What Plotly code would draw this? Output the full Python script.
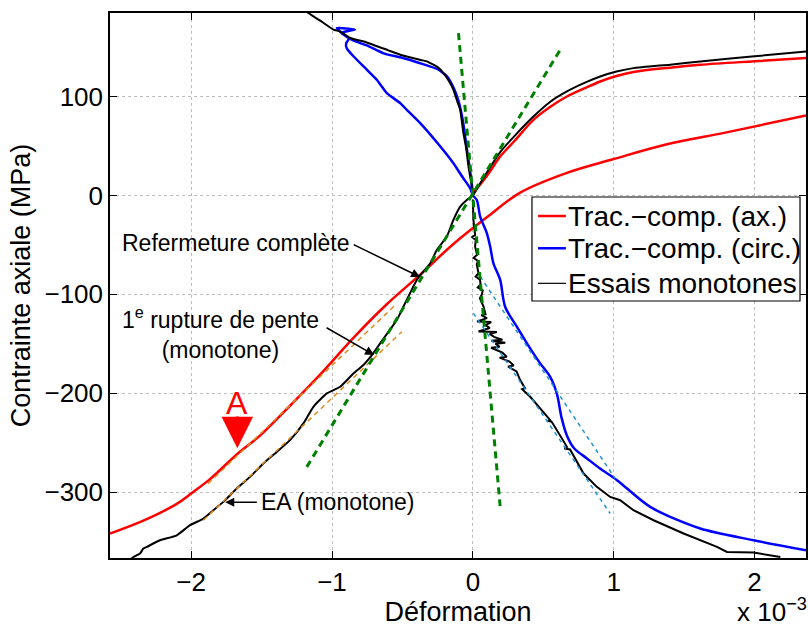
import plotly.graph_objects as go

# ---------------- data (strain in units of 1e-3, stress in MPa) ----------------
# Trac.-comp. (ax.) : tension branch from origin
red_t_x = [0, 0.1, 0.194, 0.3, 0.43, 0.55, 0.668, 0.8, 0.904, 1.02, 1.14, 1.4, 1.614, 2.0, 2.365]
red_t_y = [2, 20, 39.5, 56, 76.7, 90, 100.3, 109, 115.5, 121, 125, 129.5, 132.4, 136, 139.2]
# Trac.-comp. (ax.) : compression -> tension branch
red_c_x = [-2.576, -2.339, -2.102, -1.995, -1.866, -1.676, -1.511, -1.404, -1.083, -0.848,
           -0.611, -0.374, -0.138, 0.099, 0.336, 0.668, 1.0, 1.378, 1.8, 2.365]
red_c_y = [-342, -329, -312, -301, -287, -262, -243, -228, -181, -144,
           -110, -80, -49, -22, 3, 23, 37, 52, 64, 81]

# Trac.-comp. (circ.) : tension loop (loading then unloading)
blue_t_x = [0, -0.01, -0.03, -0.05, -0.07, -0.1, -0.14, -0.185, -0.25, -0.374, -0.516, -0.635,
            -0.753, -0.85, -0.919, -0.942, -0.966, -0.836, -0.93, -0.88, -0.9, -0.895, -0.848,
            -0.753, -0.682, -0.611, -0.516, -0.469, -0.374, -0.25, -0.138, -0.07, -0.019, 0]
blue_t_y = [0, 15, 35, 55, 75, 95, 110, 121, 128, 134, 140, 144,
            152, 157, 163, 166, 169.6, 168, 165, 159, 154, 149, 141,
            127.4, 117.2, 103.7, 93.6, 86.8, 73.4, 53, 32.8, 18, 7.5, 0]
# Trac.-comp. (circ.) : compression branch
blue_c_x = [0, 0.028, 0.052, 0.099, 0.123, 0.146, 0.194, 0.229, 0.312, 0.384, 0.478, 0.549,
            0.596, 0.63, 0.668, 0.72, 0.81, 0.9, 1.023, 1.259, 1.614, 1.993, 2.365]
blue_c_y = [0, -4.4, -21.3, -38, -51.7, -68.5, -85.4, -112.5, -132.7, -149.5, -169.8, -183.4,
            -200.2, -225, -243, -256, -266, -276, -288, -315.1, -337, -348.8, -359]

# Essais monotones : axial, compression (bottom-left to origin) then tension
blk_ax_x = [-2.43, -2.41, -2.363, -2.339, -2.315, -2.221, -2.102, -2.008, -1.913, -1.842, -1.771,
            -1.676, -1.582, -1.487, -1.392, -1.298, -1.203, -1.132, -1.037, -0.942, -0.848,
            -0.777, -0.72, -0.658, -0.54, -0.493, -0.398, -0.303, -0.256, -0.185, -0.138,
            -0.09, -0.043, 0,
            0.05, 0.194, 0.3, 0.43, 0.55, 0.668, 0.8, 0.904, 1.02, 1.14, 1.4, 1.614, 2.0, 2.365]
blk_ax_y = [-368, -365.8, -362.3, -357.2, -355.6, -348.8, -343.8, -333.6, -326.9, -318.4, -310,
            -296.5, -284.7, -271.1, -259.4, -247.5, -230.6, -213.8, -200.2, -193.5, -180,
            -171.5, -162, -149.5, -126, -112.5, -85.4, -68.5, -55, -41.5, -24.6,
            -11.1, -4.4, 0,
            12, 44, 61, 80, 95, 105.4, 114.5, 120.5, 125.5, 129, 132.5, 135.7, 141, 145.9]
# Essais monotones : circumferential, tension
blk_ct_x = [-1.2, -1.168, -1.083, -0.99, -0.942, -0.871, -0.753, -0.6, -0.516, -0.42, -0.327,
            -0.25, -0.209, -0.17, -0.138, -0.11, -0.09, -0.067, -0.05, -0.043, -0.031, -0.007, 0]
blk_ct_y = [189, 184.8, 177, 168, 166, 159.5, 155, 147, 142.6, 139, 135.8,
            130, 124, 116, 107.1, 95, 86.8, 63.2, 50, 43, 29.4, 9.1, 0]
# Essais monotones : circumferential, compression (noisy signal)
blk_cc_x = [0, 0.004, 0.016, -0.005, 0.02, 0.016, 0.03, 0.005, 0.035, 0.028, 0.04, 0.02, 0.05,
            0.055, 0.035, 0.07, 0.064, 0.05, 0.075, 0.09, 0.06, 0.1, 0.03, 0.13, 0.09, 0.12,
            0.04, 0.17, 0.12, 0.15, 0.21, 0.13, 0.23, 0.16, 0.19, 0.13, 0.21, 0.24, 0.19, 0.26,
            0.29, 0.25, 0.31, 0.336, 0.37, 0.35, 0.407, 0.549, 0.53, 0.56, 0.668, 0.65, 0.69,
            0.786, 0.88, 0.975, 1.046, 1.14, 1.283, 1.496, 1.733, 1.804, 1.993, 2.183]
blk_cc_y = [-4, -24.6, -40, -42, -45, -51.7, -60, -63, -66, -70, -78.6, -82, -85,
            -90, -93, -96, -100, -104, -112, -120, -121, -124, -127.5, -128, -131, -134,
            -137.5, -138, -140, -143, -146, -147, -149, -150, -153, -154, -159, -163, -164, -168,
            -172, -173, -178, -186.7, -195, -196, -203.6, -227.3, -228, -229, -254.3, -256, -257,
            -281.3, -294.8, -305, -308.3, -318.4, -328.6, -342, -355.6, -360.7, -361.3, -365.8]

# fitted slopes (dashed lines): endpoints
green1_x = [-0.102, 0.194]
green1_y = [164.5, -315]
green2_x = [-1.179, 0.62]
green2_y = [-274.6, 147.6]
orange1_x = [-1.88, -0.56]
orange1_y = [-291.5, -112]
orange2_x = [-1.913, -0.504]
orange2_y = [-328.6, -137.8]
lblue1_x = [0.004, 0.975]
lblue1_y = [-119.2, -321.8]
lblue2_x = [0.052, 1.01]
lblue2_y = [-82, -286.3]

x_ticks = [-2, -1, 0, 1, 2]
y_ticks = [-300, -200, -100, 0, 100]
legend_names = ["Trac.−comp. (ax.)", "Trac.−comp. (circ.)", "Essais monotones"]

# ---------------- figure ----------------
FONT = "Liberation Sans, Arial, sans-serif"
RED, BLUE, GREEN, ORANGE, LBLUE = "#ff0000", "#0000ff", "#008000", "#e08a1e", "#1f93d6"

fig = go.Figure()

def add(x, y, color, width, name=None, dash=None, smooth=None):
    fig.add_trace(go.Scatter(
        x=x, y=y, mode="lines", name=name, showlegend=False,
        line=dict(color=color, width=width, dash=dash,
                  shape="spline" if smooth else "linear", smoothing=smooth),
        hoverinfo="skip"))

add(red_t_x, red_t_y, RED, 2.5, legend_names[0], smooth=1.0)
add(red_c_x, red_c_y, RED, 2.5, legend_names[0], smooth=1.0)
add(blue_t_x, blue_t_y, BLUE, 2.5, legend_names[1], smooth=0.4)
add(blue_c_x, blue_c_y, BLUE, 2.5, legend_names[1], smooth=0.8)
add(blk_ax_x, blk_ax_y, "black", 2, legend_names[2], smooth=0.5)
add(blk_ct_x, blk_ct_y, "black", 2, legend_names[2], smooth=0.4)
add(blk_cc_x, blk_cc_y, "black", 2, legend_names[2])

add(orange1_x, orange1_y, ORANGE, 1.5, dash="5px,4px")
add(orange2_x, orange2_y, ORANGE, 1.5, dash="5px,4px")
add(lblue1_x, lblue1_y, LBLUE, 1.5, dash="4px,4px")
add(lblue2_x, lblue2_y, LBLUE, 1.5, dash="4px,4px")
add(green1_x, green1_y, GREEN, 3, dash="7px,5px")
add(green2_x, green2_y, GREEN, 3, dash="7px,5px")

ann_font = dict(family=FONT, size=23, color="black")
arrow = dict(text="", showarrow=True, arrowhead=2, arrowsize=1.2, arrowwidth=1.5,
             arrowcolor="black", axref="x", ayref="y")
annotations = [
    dict(x=-1.681, y=-47.9, text="Refermeture complète", showarrow=False, font=ann_font),
    dict(x=-0.374, y=-82.4, ax=-0.857, ay=-48.9, **arrow),
    dict(x=-1.793, y=-139.1, text="1<sup>e</sup> rupture de pente<br>(monotone)",
         showarrow=False, font=ann_font, align="center"),
    dict(x=-0.701, y=-161.3, ax=-1.049, ay=-132.9, **arrow),
    dict(x=-0.964, y=-310.4, text="EA (monotone)", showarrow=False, font=ann_font),
    dict(x=-1.758, y=-310.4, ax=-1.523, ay=-310.4, **arrow),
    dict(x=-1.672, y=-210, text="A", showarrow=False,
         font=dict(family=FONT, size=32, color=RED)),
    dict(x=-1.672, y=-255.7, ax=-1.672, ay=-222, axref="x", ayref="y", text="",
         showarrow=True, arrowhead=2, arrowsize=2.1, arrowwidth=3, arrowcolor=RED),
    dict(x=1.004, y=-0.097, xref="paper", yref="paper", xanchor="right", yanchor="middle",
         text="x 10<sup>−3</sup>", showarrow=False, font=dict(family=FONT, size=26, color="black")),
]

# legend box (drawn as a boxed key in the upper right part of the axes)
shapes = [dict(type="rect", xref="paper", yref="paper", x0=0.6063, x1=0.9914, y0=0.4716, y1=0.6624,
               line=dict(color="black", width=1.2), fillcolor="white", layer="above")]
legend_rows = [0.6275, 0.5683, 0.5040]
legend_colors = [RED, BLUE, "black"]
legend_widths = [2.5, 2.5, 1.2]
for name, yrow, col, w in zip(legend_names, legend_rows, legend_colors, legend_widths):
    shapes.append(dict(type="line", xref="paper", yref="paper", x0=0.615, x1=0.655, y0=yrow, y1=yrow,
                       line=dict(color=col, width=w), layer="above"))
    annotations.append(dict(x=0.655, y=yrow, xref="paper", yref="paper", xanchor="left",
                            yanchor="middle", text=name, showarrow=False,
                            font=dict(family=FONT, size=28, color="black")))

axis_common = dict(
    showline=True, linecolor="black", linewidth=1.5, mirror="ticks",
    ticks="inside", ticklen=7, tickcolor="black", tickwidth=1,
    showgrid=True, gridcolor="#bdbdbd", griddash="dot", gridwidth=1,
    zeroline=False, automargin=False,
    tickfont=dict(family=FONT, size=26, color="black"),
)

fig.update_layout(
    width=808, height=627,
    margin=dict(l=110, r=2, t=13, b=69),
    paper_bgcolor="white", plot_bgcolor="white",
    font=dict(family=FONT, color="black"),
    xaxis=dict(range=[-2.576, 2.365], tickvals=x_ticks,
               ticktext=[f"{v:g}".replace("-", "−") for v in x_ticks],
               title=dict(text="Déformation", font=dict(family=FONT, size=27), standoff=0),
               **axis_common),
    yaxis=dict(range=[-366.8, 184.8], tickvals=y_ticks,
               ticktext=[f"{v:g}".replace("-", "−") for v in y_ticks],
               title=dict(text="Contrainte axiale (MPa)", font=dict(family=FONT, size=27), standoff=6),
               **axis_common),
    annotations=annotations,
    shapes=shapes,
    showlegend=False,
)

fig.write_html("out.html", config={"displayModeBar": False},
               post_script="document.body.style.margin='0px';document.body.style.overflow='hidden';")
